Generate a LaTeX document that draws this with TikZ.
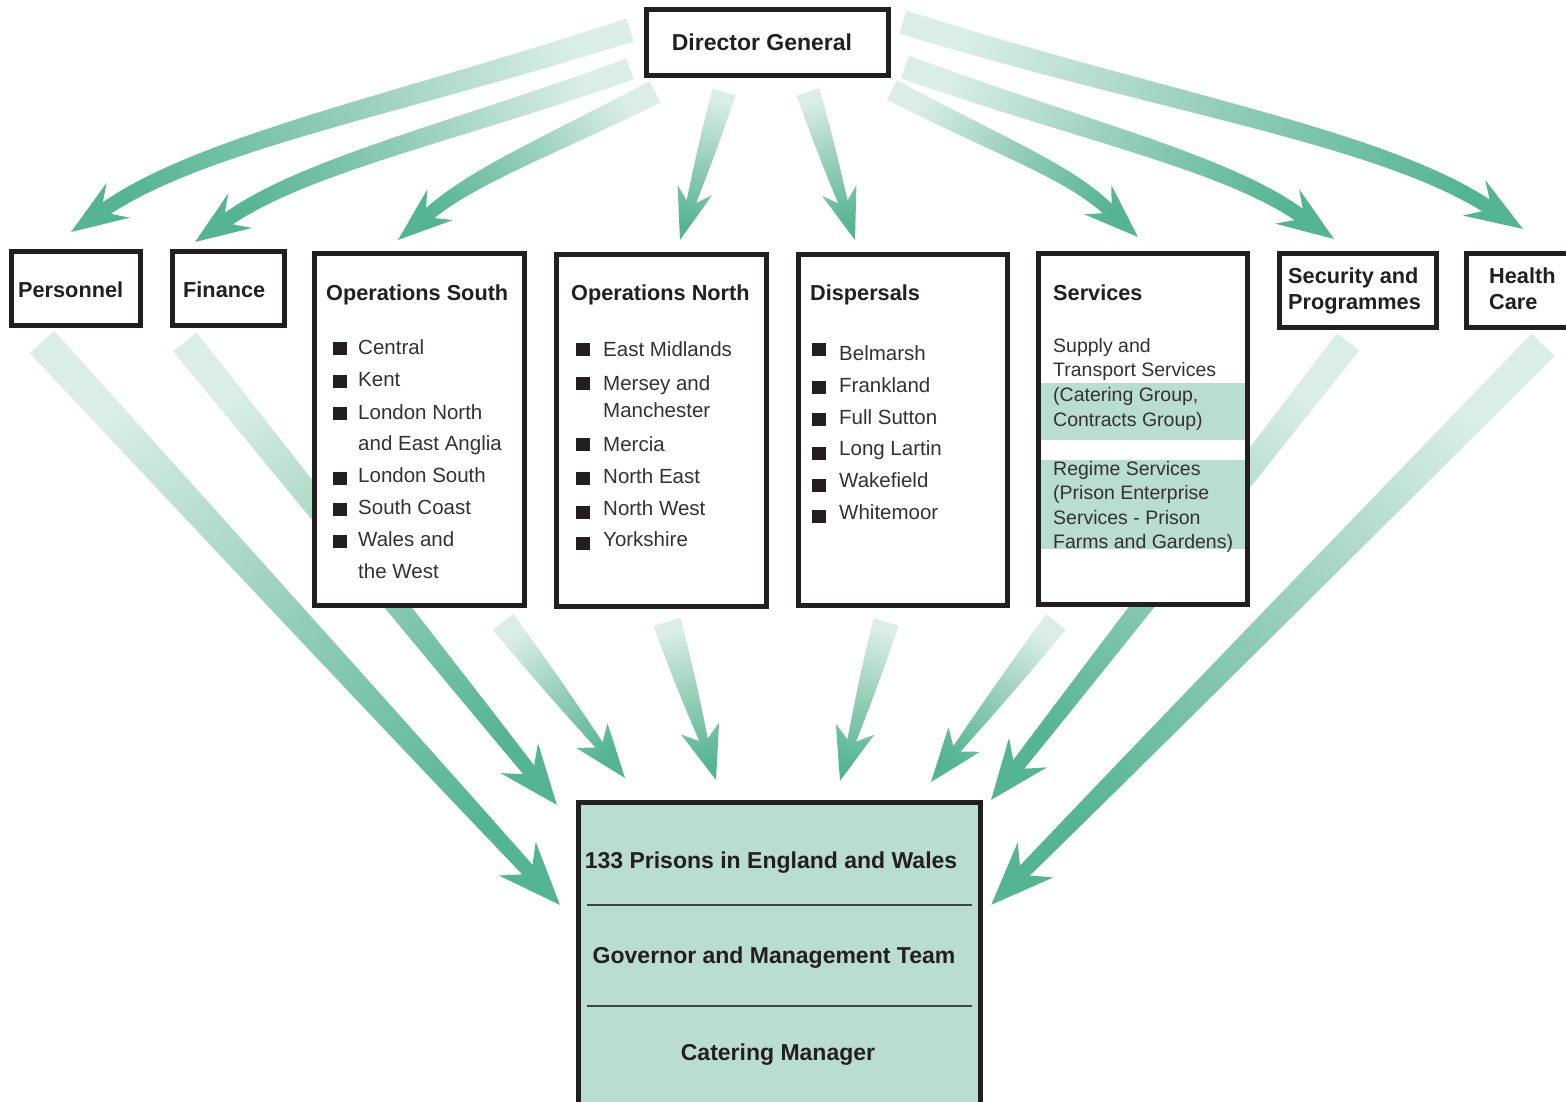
\documentclass[tikz,border=0pt]{standalone}
\usepackage{fontspec}
\setmainfont{Liberation Sans}
\usetikzlibrary{calc}
\definecolor{ink}{HTML}{231F20}
\definecolor{arrdark}{HTML}{55B592}
\definecolor{arrmid}{HTML}{95CEB8}
\definecolor{arrlight}{HTML}{DAEEE6}
\definecolor{boxfill}{HTML}{B9DDCF}
\newcommand\fDG{\fontsize{23}{27}\selectfont\bfseries}
\newcommand\fHd{\fontsize{21.7}{26}\selectfont\bfseries}
\newcommand\fLi{\fontsize{20.5}{24}\selectfont}
\newcommand\fSv{\fontsize{19.5}{24}\selectfont}
% tapered, shaded arrow: #1 start, #2 tip, #3 start half width, #4 end half width,
% #5 start heading (rel. chord), #6 end heading (rel. chord), #7 head length, #8 head half width, #9 notch
\newcommand\taper[9]{%
  \path (#1); \pgfgetlastxy{\tax}{\tay}%
  \path (#2); \pgfgetlastxy{\tbx}{\tby}%
  \pgfmathsetmacro\tang{atan2((\tby)-(\tay),(\tbx)-(\tax))}%
  \pgfmathsetmacro\tL{veclen((\tbx)-(\tax),(\tby)-(\tay))}%
  \pgfmathsetmacro\tux{cos(#6)}\pgfmathsetmacro\tuy{sin(#6)}%
  \pgfmathsetmacro\tsx{cos(#5)}\pgfmathsetmacro\tsy{sin(#5)}%
  \pgfmathsetmacro\td{#7-#9}%
  \pgfmathsetmacro\tjx{\tL-\td*\tux}\pgfmathsetmacro\tjy{-\td*\tuy}%
  \pgfmathsetmacro\tka{0.4*\tL}\pgfmathsetmacro\tkb{0.2*\tL}%
  \pgfmathsetmacro\tcax{\tka*\tsx}\pgfmathsetmacro\tcay{\tka*\tsy}%
  \pgfmathsetmacro\tcbx{\tjx-\tkb*\tux}\pgfmathsetmacro\tcby{\tjy-\tkb*\tuy}%
  \pgfmathsetmacro\twa{(2*#3+#4)/3}\pgfmathsetmacro\twb{(#3+2*#4)/3}%
  \pgfmathsetmacro\tsh{\tang-90}%
  \begin{scope}[shift={(#1)},rotate=\tang,x=1pt,y=1pt]
    \shade[arrowshade, shading angle=\tsh]
      ({-(#3)*(\tsy)},{(#3)*(\tsx)})
      .. controls ({(\tcax)-(\twa)*(\tsy)},{(\tcay)+(\twa)*(\tsx)})
             and ({(\tcbx)-(\twb)*(\tuy)},{(\tcby)+(\twb)*(\tux)})
      .. ({(\tjx)-(#4)*(\tuy)},{(\tjy)+(#4)*(\tux)})
      -- ({(\tL)-(#7)*(\tux)-(#8)*(\tuy)},{-(#7)*(\tuy)+(#8)*(\tux)})
      -- (\tL,0)
      -- ({(\tL)-(#7)*(\tux)+(#8)*(\tuy)},{-(#7)*(\tuy)-(#8)*(\tux)})
      -- ({(\tjx)+(#4)*(\tuy)},{(\tjy)-(#4)*(\tux)})
      .. controls ({(\tcbx)+(\twb)*(\tuy)},{(\tcby)-(\twb)*(\tux)})
             and ({(\tcax)+(\twa)*(\tsy)},{(\tcay)-(\twa)*(\tsx)})
      .. ({(#3)*(\tsy)},{-(#3)*(\tsx)}) -- cycle;
  \end{scope}}
\tikzset{
  arrowshade/.style={top color=arrdark, bottom color=arrlight, middle color=arrmid},
  box/.style={draw=ink, line width=5pt, fill=white, rectangle, inner sep=0pt, outer sep=0pt, anchor=north west},
  band/.style={fill=boxfill, rectangle, inner sep=0pt, outer sep=0pt, anchor=north west},
  bul/.style={fill=ink, rectangle, inner sep=0pt, minimum width=14pt, minimum height=13pt},
  hd/.style={anchor=base west, inner sep=0pt, text=ink, font=\fHd},
  li/.style={anchor=base west, inner sep=0pt, text=ink!92, font=\fLi},
  sv/.style={anchor=base west, inner sep=0pt, text=ink!92, font=\fSv},
  big/.style={anchor=base, inner sep=0pt, text=ink, font=\fDG},
  rule/.style={draw=ink!85, line width=1.1pt}
}
\begin{document}
\begin{tikzpicture}[x=1pt,y=-1pt]
\useasboundingbox (0,0) rectangle (1566,1102);
\fill[white] (0,0) rectangle (1566,1102);

% ---- box geometry (nodes placed first so arrows can refer to them; boxes drawn later on top)
\path (646,10) node[anchor=north west, minimum width=242pt, minimum height=66pt, inner sep=0pt, outer sep=0pt] (dg) {}
      (11,251) node[anchor=north west, minimum width=129pt, minimum height=74pt, inner sep=0pt, outer sep=0pt] (pers) {}
      (172,251) node[anchor=north west, minimum width=112pt, minimum height=74pt, inner sep=0pt, outer sep=0pt] (fin) {}
      (314,253) node[anchor=north west, minimum width=210pt, minimum height=352pt, inner sep=0pt, outer sep=0pt] (opss) {}
      (556,254) node[anchor=north west, minimum width=210pt, minimum height=352pt, inner sep=0pt, outer sep=0pt] (opsn) {}
      (798,254) node[anchor=north west, minimum width=209pt, minimum height=351pt, inner sep=0pt, outer sep=0pt] (disp) {}
      (1038,253) node[anchor=north west, minimum width=209pt, minimum height=351pt, inner sep=0pt, outer sep=0pt] (serv) {}
      (1279,253) node[anchor=north west, minimum width=157pt, minimum height=74pt, inner sep=0pt, outer sep=0pt] (sec) {}
      (1466,253) node[anchor=north west, minimum width=134pt, minimum height=74pt, inner sep=0pt, outer sep=0pt] (hlth) {}
      (578,802) node[anchor=north west, minimum width=402pt, minimum height=318pt, inner sep=0pt, outer sep=0pt] (pris) {};

% ---- arrow end points
\coordinate (a1s) at ($(dg.north west)+(-16,20)$);
\coordinate (a2s) at ($(dg.north west)+(-16,59)$);
\coordinate (a3s) at ($(dg.south west)+(9,16)$);
\coordinate (a4s) at ($(dg.south west)+(78,16)$);
\coordinate (a5s) at ($(dg.south west)+(162,16)$);
\coordinate (a6s) at ($(dg.south east)+(4,14)$);
\coordinate (a7s) at ($(dg.north east)+(17,57)$);
\coordinate (a8s) at ($(dg.north east)+(15,12)$);
\coordinate (a1t) at ($(pers.north west)+(60,-19)$);
\coordinate (a2t) at ($(fin.north west)+(23,-9)$);
\coordinate (a3t) at ($(opss.north west)+(84,-13)$);
\coordinate (a4t) at ($(opsn.north west)+(124,-14)$);
\coordinate (a5t) at ($(disp.north west)+(57,-14)$);
\coordinate (a6t) at ($(serv.north west)+(100,-16)$);
\coordinate (a7t) at ($(sec.north west)+(55,-14)$);
\coordinate (a8t) at ($(hlth.north west)+(57,-24)$);
\coordinate (b1s) at ($(pers.south west)+(31,17)$);
\coordinate (b2s) at ($(fin.south west)+(13,17)$);
\coordinate (b3s) at ($(opss.south west)+(189,17)$);
\coordinate (b4s) at ($(opsn.south west)+(111,16)$);
\coordinate (b5s) at ($(disp.south west)+(88,17)$);
\coordinate (b6s) at ($(serv.south west)+(18,18)$);
\coordinate (b7s) at ($(sec.south west)+(69,15)$);
\coordinate (b8s) at ($(hlth.south west)+(77,18)$);
\coordinate (b1t) at ($(pris.north west)+(-18,103)$);
\coordinate (b2t) at ($(pris.north west)+(-21,3)$);
\coordinate (b3t) at ($(pris.north west)+(47,-24)$);
\coordinate (b4t) at ($(pris.north west)+(138,-22)$);
\coordinate (b5t) at ($(pris.north west)+(262,-21)$);
\coordinate (b6t) at ($(pris.north west)+(353,-20)$);
\coordinate (b7t) at ($(pris.north east)+(11,-2)$);
\coordinate (b8t) at ($(pris.north east)+(11,103)$);

% ---- arrows
\taper{a1s}{a1t}{12}{7}{-2}{14}{57}{21}{14}
\taper{a2s}{a2t}{11}{7}{-2}{13}{55}{21}{14}
\taper{a3s}{a3t}{12}{6.5}{-3}{10}{55}{20}{13}
\taper{a4s}{a4t}{12}{5}{0}{0}{52}{18}{12}
\taper{a5s}{a5t}{12}{5}{0}{0}{52}{18}{12}
\taper{a6s}{a6t}{11}{6.5}{3}{-12}{55}{20}{13}
\taper{a7s}{a7t}{12}{7}{2}{-13}{57}{21}{14}
\taper{a8s}{a8t}{12}{7}{1}{-14}{58}{21}{14}
\taper{b1s}{b1t}{16.5}{7}{0}{0}{63}{25}{15}
\taper{b2s}{b2t}{15}{7}{0}{0}{60}{24}{15}
\taper{b3s}{b3t}{13}{4.5}{0}{0}{54}{20}{12}
\taper{b4s}{b4t}{14}{4.5}{0}{0}{54}{20}{12}
\taper{b5s}{b5t}{13}{4.5}{0}{0}{54}{20}{12}
\taper{b6s}{b6t}{12.5}{4.5}{0}{0}{54}{20}{12}
\taper{b7s}{b7t}{14}{7}{0}{0}{60}{24}{15}
\taper{b8s}{b8t}{16}{7}{0}{0}{63}{25}{15}

% ---- boxes
\node[box, minimum width=242pt, minimum height=66pt] (dgb) at (dg.north west) {};
\node[box, minimum width=129pt, minimum height=74pt] (persb) at (pers.north west) {};
\node[box, minimum width=112pt, minimum height=74pt] (finb) at (fin.north west) {};
\node[box, minimum width=210pt, minimum height=352pt] (opssb) at (opss.north west) {};
\node[box, minimum width=210pt, minimum height=352pt] (opsnb) at (opsn.north west) {};
\node[box, minimum width=209pt, minimum height=351pt] (dispb) at (disp.north west) {};
\node[box, minimum width=209pt, minimum height=351pt] (servb) at (serv.north west) {};
\node[box, minimum width=157pt, minimum height=74pt] (secb) at (sec.north west) {};
\node[box, minimum width=134pt, minimum height=74pt] (hlthb) at (hlth.north west) {};
\node[box, fill=boxfill, minimum width=402pt, minimum height=318pt] (prisb) at (pris.north west) {};

% ---- services highlight bands
\node[band, minimum width=204pt, minimum height=57pt] (band1) at (1040.5,383) {};
\node[band, minimum width=204pt, minimum height=89pt] (band2) at (1040.5,460) {};

% ---- titles
\node[big] (dgt) at (762,51) {Director General};
\node[hd] (perst) at (18,297) {Personnel};
\node[hd] (fint) at (183,297) {Finance};
\node[hd] (osst) at (326,300) {Operations South};
\node[hd] (osnt) at (571,300) {Operations North};
\node[hd] (dispt) at (810,300) {Dispersals};
\node[hd] (servt) at (1053,300) {Services};
\node[hd] (sect1) at (1288,283) {Security and};
\node[hd] (sect2) at (1288,309) {Programmes};
\node[hd] (hlt1) at (1489,283) {Health};
\node[hd] (hlt2) at (1489,309) {Care};

% ---- Operations South list
\node[bul] (osb1) at (340,348) {};
\node[bul] (osb2) at (340,381) {};
\node[bul] (osb3) at (340,413) {};
\node[bul] (osb4) at (340,478) {};
\node[bul] (osb5) at (340,509) {};
\node[bul] (osb6) at (340,541) {};
\node[li] (os1) at (358,354) {Central};
\node[li] (os2) at (358,386) {Kent};
\node[li] (os3) at (358,419) {London North};
\node[li] (os4) at (358,450) {and East Anglia};
\node[li] (os5) at (358,482) {London South};
\node[li] (os6) at (358,514) {South Coast};
\node[li] (os7) at (358,546) {Wales and};
\node[li] (os8) at (358,578) {the West};

% ---- Operations North list
\node[bul] (onb1) at (583,349) {};
\node[bul] (onb2) at (583,383) {};
\node[bul] (onb3) at (583,444) {};
\node[bul] (onb4) at (583,478) {};
\node[bul] (onb5) at (583,512) {};
\node[bul] (onb6) at (583,543) {};
\node[li] (on1) at (603,356) {East Midlands};
\node[li] (on2) at (603,390) {Mersey and};
\node[li] (on3) at (603,417) {Manchester};
\node[li] (on4) at (603,451) {Mercia};
\node[li] (on5) at (603,483) {North East};
\node[li] (on6) at (603,515) {North West};
\node[li] (on7) at (603,546) {Yorkshire};

% ---- Dispersals list
\node[bul] (dsb1) at (819,349) {};
\node[bul] (dsb2) at (819,387) {};
\node[bul] (dsb3) at (819,419) {};
\node[bul] (dsb4) at (819,453) {};
\node[bul] (dsb5) at (819,485) {};
\node[bul] (dsb6) at (819,516) {};
\node[li] (ds1) at (839,360) {Belmarsh};
\node[li] (ds2) at (839,392) {Frankland};
\node[li] (ds3) at (839,424) {Full Sutton};
\node[li] (ds4) at (839,455) {Long Lartin};
\node[li] (ds5) at (839,487) {Wakefield};
\node[li] (ds6) at (839,519) {Whitemoor};

% ---- Services text
\node[sv] (sv1) at (1053,352) {Supply and};
\node[sv] (sv2) at (1053,376) {Transport Services};
\node[sv] (sv3) at (1053,401) {(Catering Group,};
\node[sv] (sv4) at (1053,426) {Contracts Group)};
\node[sv] (sv5) at (1053,475) {Regime Services};
\node[sv] (sv6) at (1053,499) {(Prison Enterprise};
\node[sv] (sv7) at (1053,524) {Services - Prison};
\node[sv] (sv8) at (1053,548) {Farms and Gardens)};

% ---- Prisons box
\draw[rule] ($(pris.north west)+(9,103)$) -- ($(pris.north east)+(-8,103)$);
\draw[rule] ($(pris.north west)+(9,204)$) -- ($(pris.north east)+(-8,204)$);
\node[big] (pr1) at (771,868) {133 Prisons in England and Wales};
\node[big] (pr2) at (774,963) {Governor and Management Team};
\node[big] (pr3) at (778,1060) {Catering Manager};
\end{tikzpicture}
\end{document}
